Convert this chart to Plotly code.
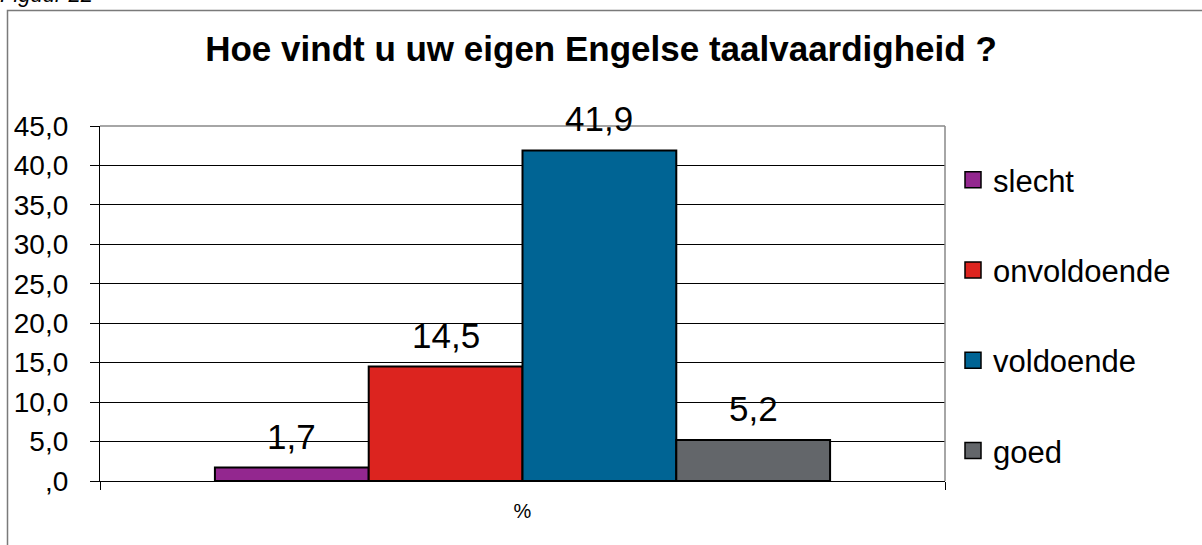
import plotly.graph_objects as go

CATEGORY = ["%"]
SERIES = ["slecht", "onvoldoende", "voldoende", "goed"]
VALUES = [1.7, 14.5, 41.9, 5.2]
COLORS = ["#93278F", "#DC241F", "#006494", "#63666A"]
Y_TICKS = [0, 5, 10, 15, 20, 25, 30, 35, 40, 45]
Y_LABELS = [",0", "5,0", "10,0", "15,0", "20,0", "25,0", "30,0", "35,0", "40,0", "45,0"]

_FONT = "Liberation Sans, Arial, sans-serif"
W, H = 1202, 545
L, R, T, B = 100, 257, 126, 64
PW, PH = W - L - R, H - T - B
BARGAP = 0.272
BAR_W = PW * (1 - BARGAP) / len(SERIES)


def px(x):
    return (x - L) / PW


def py(y):
    return 1 - (y - T) / PH


fig = go.Figure()
for i, (name, val, color) in enumerate(zip(SERIES, VALUES, COLORS)):
    fig.add_trace(go.Bar(
        x=CATEGORY, y=[val], name=name, legendgroup=name, showlegend=False,
        marker=dict(color=color, line=dict(color="black", width=2)),
        cliponaxis=False,
    ))
    # legend entry with a bigger square than the bar default
    fig.add_trace(go.Scatter(
        x=[None], y=[None], mode="markers", name=name, legendgroup=name,
        marker=dict(symbol="square", size=16, color=color,
                    line=dict(color="black", width=1.5)),
    ))
    # value label above the bar
    fig.add_annotation(
        x=CATEGORY[0], y=val, text=f"{val:.1f}".replace(".", ","),
        xshift=(i - 1.5) * BAR_W, yshift=10, yanchor="bottom",
        showarrow=False, font=dict(size=35, color="black"),
    )

# gray frame round the whole chart, and top/right of the plot area
fig.add_shape(type="rect", xref="paper", yref="paper",
              x0=px(7.5), x1=px(1215), y0=py(10.5), y1=py(565),
              line=dict(color="#7a7a7a", width=1.5), layer="below")
fig.add_shape(type="line", xref="paper", yref="paper", x0=0, x1=1, y0=1, y1=1,
              line=dict(color="#888888", width=1.5))
fig.add_shape(type="line", xref="paper", yref="paper", x0=1, x1=1, y0=0, y1=1,
              line=dict(color="#888888", width=1.5))

fig.add_annotation(text="<i>Figuur 22</i>", xref="paper", yref="paper",
                   x=px(-2), y=py(9), xanchor="left", yanchor="bottom",
                   showarrow=False, font=dict(size=22, color="black", family=_FONT))

fig.update_layout(
    width=W, height=H,
    margin=dict(l=L, r=R, t=T, b=B),
    paper_bgcolor="white", plot_bgcolor="white",
    font=dict(family=_FONT, color="black"),
    separators=",.",
    barmode="group", bargap=BARGAP, bargroupgap=0,
    title=dict(text="<b>Hoe vindt u uw eigen Engelse taalvaardigheid ?</b>",
               x=0.5, xanchor="center", y=1 - 49 / H, yanchor="middle",
               font=dict(size=35, color="black")),
    legend=dict(x=px(953), y=py(153), xanchor="left", yanchor="top",
                font=dict(size=31), tracegroupgap=47, traceorder="grouped",
                bgcolor="rgba(0,0,0,0)"),
    showlegend=True,
)
fig.update_yaxes(
    range=[0, 45], tickvals=Y_TICKS, ticktext=Y_LABELS,
    showgrid=True, gridcolor="black", gridwidth=1,
    showline=True, linecolor="black", linewidth=1.3,
    ticks="outside", ticklen=9, tickcolor="black",
    tickfont=dict(size=28), ticklabelstandoff=16, zeroline=False,
)
fig.update_xaxes(
    showline=True, linecolor="black", linewidth=1.3,
    ticks="outside", ticklen=8, tickcolor="black", tickson="boundaries",
    tickfont=dict(size=20), ticklabelstandoff=12,
)

# page body has an 8px default margin; drop it so the chart fills the window
fig.write_html("out.html", config={"displayModeBar": False},
               post_script="document.body.style.margin='0';")
